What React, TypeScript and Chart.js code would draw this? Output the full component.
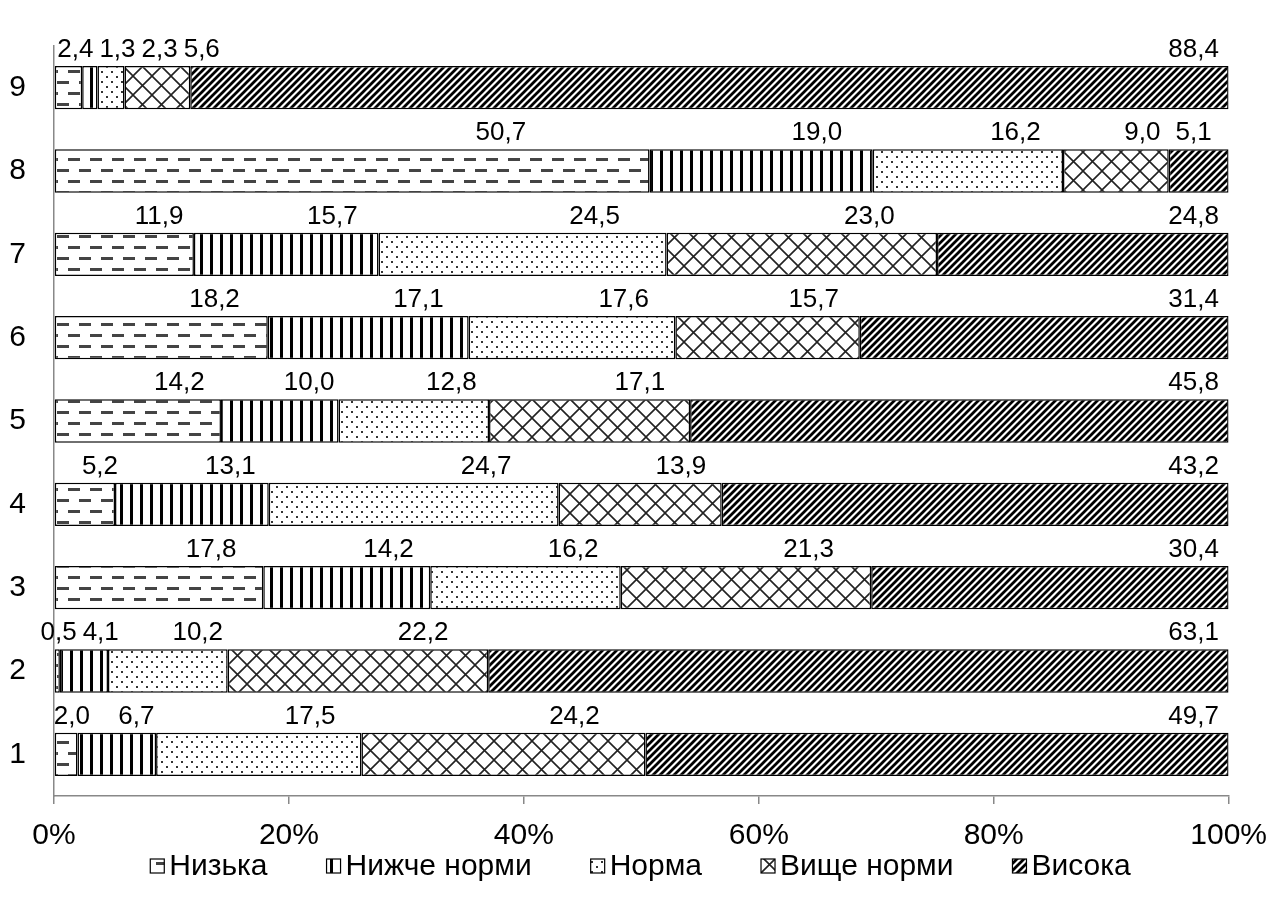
import React, { useEffect, useRef } from "react";
import { Chart, registerables } from "chart.js";

Chart.register(...registerables);

const categories = ["1", "2", "3", "4", "5", "6", "7", "8", "9"];
const seriesNames = ["Низька", "Нижче норми", "Норма", "Вище норми", "Висока"];
const lowValues = [2.0, 0.5, 17.8, 5.2, 14.2, 18.2, 11.9, 50.7, 2.4];
const belowNormValues = [6.7, 4.1, 14.2, 13.1, 10.0, 17.1, 15.7, 19.0, 1.3];
const normValues = [17.5, 10.2, 16.2, 24.7, 12.8, 17.6, 24.5, 16.2, 2.3];
const aboveNormValues = [24.2, 22.2, 21.3, 13.9, 17.1, 15.7, 23.0, 9.0, 5.6];
const highValues = [49.7, 63.1, 30.4, 43.2, 45.8, 31.4, 24.8, 5.1, 88.4];
const xTicks = [0, 20, 40, 60, 80, 100];

const FONT = "'Liberation Sans', Arial, sans-serif";

function makePattern(kind: string): CanvasPattern | string {
  const c = document.createElement("canvas");
  let w = 10, h = 10;
  if (kind === "dash") { w = 22; h = 22; }
  if (kind === "cross") { w = 19; h = 19; }
  if (kind === "diag") { w = 7; h = 7; }
  c.width = w; c.height = h;
  const ctx = c.getContext("2d")!;
  ctx.fillStyle = "#fff";
  ctx.fillRect(0, 0, w, h);
  if (kind === "dash") {
    ctx.fillStyle = "#444";
    ctx.fillRect(2, 4, 12, 3);
    ctx.fillRect(13, 15, 12, 3);
    ctx.fillRect(-9, 15, 12, 3);
  } else if (kind === "vert") {
    ctx.fillStyle = "#000";
    ctx.fillRect(0, 0, 3, h);
  } else if (kind === "dots") {
    ctx.fillStyle = "#333";
    ctx.fillRect(1, 1, 2, 2);
    ctx.fillRect(6, 6, 2, 2);
  } else if (kind === "cross") {
    ctx.strokeStyle = "#222";
    ctx.lineWidth = 1.6;
    ctx.beginPath();
    ctx.moveTo(0, 0); ctx.lineTo(w, h);
    ctx.moveTo(w, 0); ctx.lineTo(0, h);
    ctx.stroke();
  } else if (kind === "diag") {
    ctx.strokeStyle = "#000";
    ctx.lineWidth = 2.8;
    ctx.beginPath();
    ctx.moveTo(-2, h + 2); ctx.lineTo(w + 2, -2);
    ctx.moveTo(-2, 2); ctx.lineTo(2, -2);
    ctx.moveTo(w - 2, h + 2); ctx.lineTo(w + 2, h - 2);
    ctx.stroke();
  }
  return ctx.createPattern(c, "repeat") || "#fff";
}

const fmt = (v: number) => v.toFixed(1).replace(".", ",");

const labelPlugin = {
  id: "segLabels",
  afterDatasetsDraw(chart: any) {
    const ctx = chart.ctx;
    const n = chart.data.datasets.length;
    ctx.save();
    ctx.font = `26px ${FONT}`;
    ctx.fillStyle = "#000";
    ctx.textAlign = "center";
    ctx.textBaseline = "alphabetic";
    const rows = chart.data.labels.length;
    for (let j = 0; j < rows; j++) {
      let prevRight = -Infinity;
      for (let i = 0; i < n; i++) {
        const meta = chart.getDatasetMeta(i);
        const el = meta.data[j];
        const p = el.getProps(["x", "base", "y", "height"], true);
        const raw = chart.data.datasets[i].rawValues[j];
        const text = fmt(raw);
        const tw = ctx.measureText(text).width;
        let cx: number;
        if (i === n - 1) {
          cx = chart.chartArea.right - 35;
        } else {
          cx = p.base + 0.75 * (p.x - p.base);
          if (cx - tw / 2 < prevRight + 6) cx = prevRight + 6 + tw / 2;
        }
        prevRight = cx + tw / 2;
        ctx.fillText(text, cx, p.y - p.height / 2 - 9);
      }
    }
    ctx.restore();
  },
};

const legendPlugin = {
  id: "customLegend",
  afterDraw(chart: any) {
    const ctx = chart.ctx;
    ctx.save();
    ctx.font = `30px ${FONT}`;
    ctx.textBaseline = "middle";
    ctx.textAlign = "left";
    const box = 14, gapBox = 5, gapItem = 59;
    const ds = chart.data.datasets;
    let total = 0;
    const widths = ds.map((d: any) => ctx.measureText(d.label).width);
    widths.forEach((w: number, i: number) => {
      total += box + gapBox + w + (i < ds.length - 1 ? gapItem : 0);
    });
    let x = chart.width / 2 - total / 2;
    const y = 866;
    ds.forEach((d: any, i: number) => {
      ctx.fillStyle = d.backgroundColor;
      ctx.fillRect(x, y - box / 2, box, box);
      ctx.strokeStyle = "#000";
      ctx.lineWidth = 1.2;
      ctx.strokeRect(x, y - box / 2, box, box);
      ctx.fillStyle = "#000";
      ctx.fillText(d.label, x + box + gapBox, y + 1);
      x += box + gapBox + widths[i] + gapItem;
    });
    ctx.restore();
  },
};

export default function App() {
  const ref = useRef<HTMLCanvasElement>(null);
  useEffect(() => {
    const series = [lowValues, belowNormValues, normValues, aboveNormValues, highValues];
    const kinds = ["dash", "vert", "dots", "cross", "diag"];
    const sums = categories.map((_, j) => series.reduce((s, arr) => s + arr[j], 0));
    const datasets = series.map((arr, i) => ({
      label: seriesNames[i],
      data: arr.map((v, j) => (v / sums[j]) * 100),
      rawValues: arr,
      backgroundColor: makePattern(kinds[i]),
      borderColor: "#000",
      borderWidth: 1.5,
      borderSkipped: false,
      barPercentage: 0.52,
      categoryPercentage: 1,
    }));
    const chart = new Chart(ref.current!, {
      type: "bar",
      data: { labels: categories, datasets: datasets as any },
      options: {
        indexAxis: "y",
        animation: false,
        responsive: false,
        devicePixelRatio: 1,
        layout: { padding: { left: 0, right: 49, top: 36, bottom: 55 } },
        plugins: { legend: { display: false }, tooltip: { enabled: false } },
        scales: {
          x: {
            stacked: true,
            min: 0,
            max: 100,
            afterBuildTicks: (s: any) => { s.ticks = xTicks.map((v) => ({ value: v })); },
            afterFit: (s: any) => { s.height = 60; },
            ticks: {
              callback: (v: any) => `${v}%`,
              font: { family: FONT, size: 30 },
              color: "#000",
              padding: 14,
              maxRotation: 0,
            },
            grid: { drawOnChartArea: false, drawTicks: true, tickLength: 8, color: "#888", lineWidth: 1.5 },
            border: { color: "#888", width: 1.5 },
          },
          y: {
            stacked: true,
            reverse: true,
            afterFit: (s: any) => { s.width = 54; },
            ticks: { font: { family: FONT, size: 30 }, color: "#000", padding: 28 },
            grid: { drawOnChartArea: false, drawTicks: false },
            border: { color: "#888", width: 1.5 },
          },
        },
      },
      plugins: [labelPlugin, legendPlugin],
    });
    return () => chart.destroy();
  }, []);
  return (
    <div style={{ position: "fixed", left: 0, top: 0, width: 1281, height: 911, background: "#fff" }}>
      <canvas ref={ref} width={1281} height={911} style={{ width: 1281, height: 911 }} />
    </div>
  );
}
